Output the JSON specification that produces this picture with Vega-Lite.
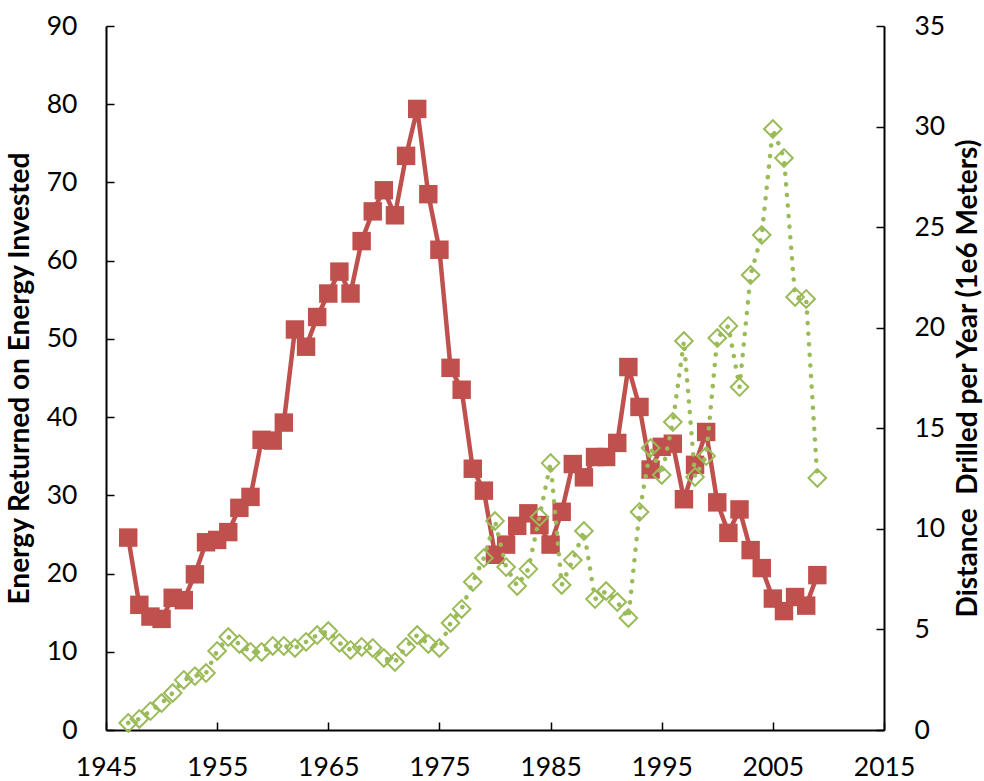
{
  "$schema": "https://vega.github.io/schema/vega-lite/v6.json",
  "width": 778,
  "height": 704,
  "autosize": "none",
  "padding": {"left": 106, "top": 26, "right": 100, "bottom": 51},
  "background": "white",
  "config": {
    "view": {"stroke": null},
    "font": "Lato",
    "axis": {
      "grid": false,
      "domainColor": "black",
      "domainWidth": 2,
      "tickColor": "black",
      "tickWidth": 1.5,
      "tickSize": -8,
      "labelFont": "Lato",
      "labelFontSize": 26.5,
      "labelColor": "black",
      "titleFont": "Lato",
      "titleFontWeight": "bold",
      "titleFontSize": 28,
      "titleColor": "black"
    }
  },
  "data": {
    "values": [
      {"year": 1947, "eroi": 24.6, "dist": 0.35},
      {"year": 1948, "eroi": 16.0, "dist": 0.55},
      {"year": 1949, "eroi": 14.5, "dist": 0.94},
      {"year": 1950, "eroi": 14.2, "dist": 1.34},
      {"year": 1951, "eroi": 16.9, "dist": 1.84},
      {"year": 1952, "eroi": 16.6, "dist": 2.49},
      {"year": 1953, "eroi": 19.9, "dist": 2.68},
      {"year": 1954, "eroi": 24.0, "dist": 2.83},
      {"year": 1955, "eroi": 24.3, "dist": 3.93},
      {"year": 1956, "eroi": 25.3, "dist": 4.62},
      {"year": 1957, "eroi": 28.4, "dist": 4.28},
      {"year": 1958, "eroi": 29.8, "dist": 3.88},
      {"year": 1959, "eroi": 37.1, "dist": 3.88},
      {"year": 1960, "eroi": 37.0, "dist": 4.18},
      {"year": 1961, "eroi": 39.3, "dist": 4.18},
      {"year": 1962, "eroi": 51.2, "dist": 4.08},
      {"year": 1963, "eroi": 49.0, "dist": 4.38},
      {"year": 1964, "eroi": 52.8, "dist": 4.72},
      {"year": 1965, "eroi": 55.8, "dist": 4.92},
      {"year": 1966, "eroi": 58.6, "dist": 4.33},
      {"year": 1967, "eroi": 55.8, "dist": 3.98},
      {"year": 1968, "eroi": 62.5, "dist": 4.13},
      {"year": 1969, "eroi": 66.3, "dist": 4.08},
      {"year": 1970, "eroi": 69.0, "dist": 3.58},
      {"year": 1971, "eroi": 65.8, "dist": 3.38},
      {"year": 1972, "eroi": 73.4, "dist": 4.13},
      {"year": 1973, "eroi": 79.4, "dist": 4.72},
      {"year": 1974, "eroi": 68.5, "dist": 4.28},
      {"year": 1975, "eroi": 61.4, "dist": 4.08},
      {"year": 1976, "eroi": 46.3, "dist": 5.32},
      {"year": 1977, "eroi": 43.5, "dist": 6.02},
      {"year": 1978, "eroi": 33.4, "dist": 7.36},
      {"year": 1979, "eroi": 30.6, "dist": 8.55},
      {"year": 1980, "eroi": 22.4, "dist": 10.39},
      {"year": 1981, "eroi": 23.7, "dist": 8.1},
      {"year": 1982, "eroi": 26.1, "dist": 7.16},
      {"year": 1983, "eroi": 27.7, "dist": 8.0},
      {"year": 1984, "eroi": 26.2, "dist": 10.59},
      {"year": 1985, "eroi": 23.7, "dist": 13.27},
      {"year": 1986, "eroi": 27.9, "dist": 7.21},
      {"year": 1987, "eroi": 34.0, "dist": 8.45},
      {"year": 1988, "eroi": 32.3, "dist": 9.89},
      {"year": 1989, "eroi": 34.9, "dist": 6.51},
      {"year": 1990, "eroi": 34.9, "dist": 6.91},
      {"year": 1991, "eroi": 36.7, "dist": 6.36},
      {"year": 1992, "eroi": 46.4, "dist": 5.57},
      {"year": 1993, "eroi": 41.3, "dist": 10.84},
      {"year": 1994, "eroi": 33.3, "dist": 14.02},
      {"year": 1995, "eroi": 36.2, "dist": 12.68},
      {"year": 1996, "eroi": 36.6, "dist": 15.31},
      {"year": 1997, "eroi": 29.5, "dist": 19.34},
      {"year": 1998, "eroi": 33.9, "dist": 12.58},
      {"year": 1999, "eroi": 38.1, "dist": 13.62},
      {"year": 2000, "eroi": 29.1, "dist": 19.49},
      {"year": 2001, "eroi": 25.2, "dist": 20.09},
      {"year": 2002, "eroi": 28.2, "dist": 17.05},
      {"year": 2003, "eroi": 23.0, "dist": 22.62},
      {"year": 2004, "eroi": 20.7, "dist": 24.61},
      {"year": 2005, "eroi": 16.8, "dist": 29.88},
      {"year": 2006, "eroi": 15.2, "dist": 28.44},
      {"year": 2007, "eroi": 17.0, "dist": 21.53},
      {"year": 2008, "eroi": 15.9, "dist": 21.43},
      {"year": 2009, "eroi": 19.8, "dist": 12.53}
    ]
  },
  "encoding": {
    "x": {
      "field": "year",
      "type": "quantitative",
      "scale": {"domain": [1945, 2015], "nice": false, "zero": false},
      "axis": {
        "values": [1945, 1955, 1965, 1975, 1985, 1995, 2005, 2015],
        "format": "d",
        "title": null,
        "labelPadding": 32,
        "labelFlush": false,
        "labelOverlap": false
      }
    }
  },
  "layer": [
    {
      "layer": [
        {
          "mark": {"type": "line", "color": "#C0504D", "strokeWidth": 4.5}
        },
        {
          "mark": {"type": "point", "shape": "square", "filled": true, "color": "#C0504D", "size": 340, "opacity": 1}
        }
      ],
      "encoding": {
        "y": {
          "field": "eroi",
          "type": "quantitative",
          "scale": {"domain": [0, 90], "nice": false},
          "axis": {
            "orient": "left",
            "values": [0, 10, 20, 30, 40, 50, 60, 70, 80, 90],
            "title": "Energy Returned on Energy Invested",
            "labelPadding": 37,
            "titlePadding": 12,
            "labelOverlap": false,
            "labelFlush": false
          }
        }
      }
    },
    {
      "layer": [
        {
          "mark": {"type": "line", "color": "#9BBB59", "strokeWidth": 4.5, "strokeCap": "round", "strokeDash": [0.1, 10.5]}
        },
        {
          "mark": {"type": "point", "shape": "diamond", "filled": false, "color": "#9BBB59", "strokeWidth": 2, "size": 310, "opacity": 1}
        }
      ],
      "encoding": {
        "y": {
          "field": "dist",
          "type": "quantitative",
          "scale": {"domain": [0, 35], "nice": false},
          "axis": {
            "orient": "right",
            "values": [0, 5, 10, 15, 20, 25, 30, 35],
            "title": "Distance \u00a0Drilled per Year (1e6 Meters)",
            "titleAngle": -90,
            "titleBaseline": "top",
            "labelPadding": 38,
            "titlePadding": 10,
            "labelOverlap": false,
            "labelFlush": false
          }
        }
      }
    }
  ],
  "resolve": {"scale": {"y": "independent"}}
}
